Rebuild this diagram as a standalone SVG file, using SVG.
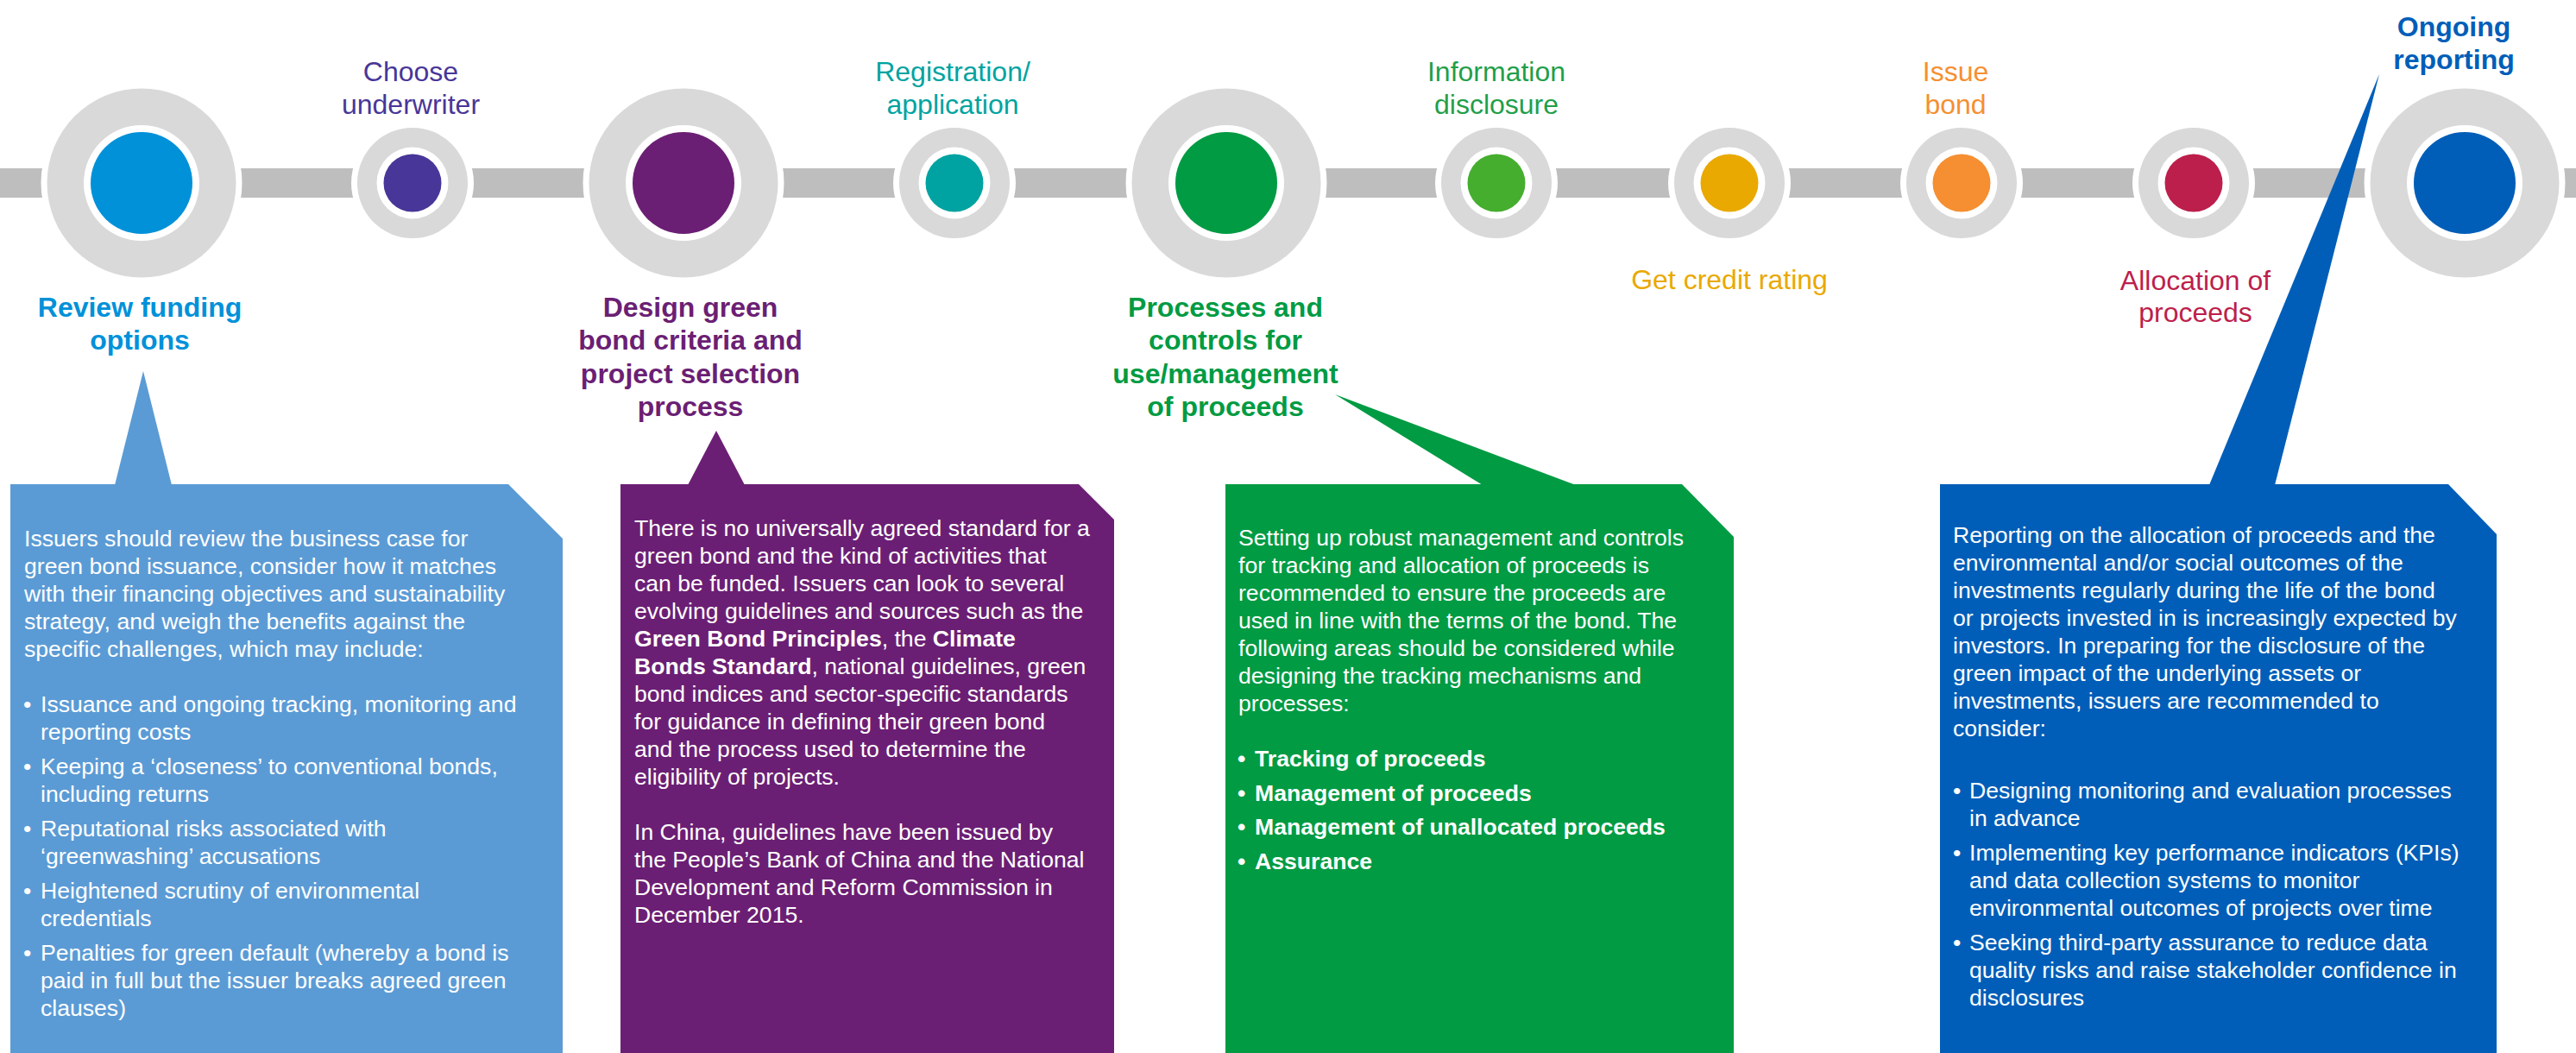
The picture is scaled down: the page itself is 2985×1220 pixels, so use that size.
<svg xmlns="http://www.w3.org/2000/svg" xmlns:xlink="http://www.w3.org/1999/xlink" width="2985" height="1220" viewBox="0 0 2985 1220">
  <style>
    .track { fill: #bebebe; }
    .halo { fill: #ffffff; }
    .rim { fill: #d9d9d9; }
    .lbl { font-family: "Liberation Sans", Arial, sans-serif; font-size: 32px; text-anchor: middle; }
    .ttl { font-family: "Liberation Sans", Arial, sans-serif; font-size: 32px; font-weight: bold; text-anchor: middle; }
    .body { font-family: "Liberation Sans", Arial, sans-serif; font-size: 26.6px; fill: #ffffff; }
    .b { font-weight: bold; }
  </style>
  <defs>
    <!-- large stop: white halo, grey rim, white ring -->
    <g id="stopL">
      <circle r="116.5" class="halo"/>
      <circle r="109.5" class="rim"/>
      <circle r="67" class="halo"/>
    </g>
    <!-- small stop -->
    <g id="stopS">
      <circle r="71" class="halo"/>
      <circle r="64" class="rim"/>
      <circle r="41.5" class="halo"/>
    </g>
  </defs>

  <rect width="2985" height="1220" fill="#ffffff"/>

  <!-- timeline track joining the stops -->
  <g id="connectors">
    <rect class="track" x="0" y="195" width="2985" height="34"/>
  </g>

  <!-- timeline stops -->
  <g id="step-review-funding">
    <use xlink:href="#stopL" x="164" y="212"/>
    <circle cx="164" cy="212" r="59" fill="#0091d9"/>
    <text class="ttl" fill="#0091d9"><tspan x="162" y="367">Review funding</tspan><tspan x="162" y="405">options</tspan></text>
  </g>

  <g id="step-choose-underwriter">
    <use xlink:href="#stopS" x="478" y="212"/>
    <circle cx="478" cy="212" r="33.5" fill="#483698"/>
    <text class="lbl" fill="#483698"><tspan x="476" y="94">Choose</tspan><tspan x="476" y="131.5">underwriter</tspan></text>
  </g>

  <g id="step-design-criteria">
    <use xlink:href="#stopL" x="792" y="212"/>
    <circle cx="792" cy="212" r="59" fill="#6b1f74"/>
    <text class="ttl" fill="#6b1f74"><tspan x="800" y="367">Design green</tspan><tspan x="800" y="405">bond criteria and</tspan><tspan x="800" y="443.5">project selection</tspan><tspan x="800" y="482">process</tspan></text>
  </g>

  <g id="step-registration">
    <use xlink:href="#stopS" x="1106" y="212"/>
    <circle cx="1106" cy="212" r="33.5" fill="#00a3a1"/>
    <text class="lbl" fill="#00a3a1"><tspan x="1104" y="94">Registration/</tspan><tspan x="1104" y="131.5">application</tspan></text>
  </g>

  <g id="step-processes-controls">
    <use xlink:href="#stopL" x="1421" y="212"/>
    <circle cx="1421" cy="212" r="59" fill="#009b43"/>
    <text class="ttl" fill="#009b43"><tspan x="1420" y="367">Processes and</tspan><tspan x="1420" y="405">controls for</tspan><tspan x="1420" y="443.5">use/management</tspan><tspan x="1420" y="482">of proceeds</tspan></text>
  </g>

  <g id="step-information-disclosure">
    <use xlink:href="#stopS" x="1734" y="212"/>
    <circle cx="1734" cy="212" r="33.5" fill="#45ae2e"/>
    <text class="lbl" fill="#1f9f4a"><tspan x="1734" y="94">Information</tspan><tspan x="1734" y="131.5">disclosure</tspan></text>
  </g>

  <g id="step-credit-rating">
    <use xlink:href="#stopS" x="2004" y="212"/>
    <circle cx="2004" cy="212" r="33.5" fill="#e9a900"/>
    <text class="lbl" fill="#e9a900" x="2004" y="335">Get credit rating</text>
  </g>

  <g id="step-issue-bond">
    <use xlink:href="#stopS" x="2273" y="212"/>
    <circle cx="2273" cy="212" r="33.5" fill="#f58f31"/>
    <text class="lbl" fill="#f58f31"><tspan x="2266" y="94">Issue</tspan><tspan x="2266" y="131.5">bond</tspan></text>
  </g>

  <g id="step-allocation">
    <use xlink:href="#stopS" x="2542" y="212"/>
    <circle cx="2542" cy="212" r="33.5" fill="#bc1f4c"/>
    <text class="lbl" fill="#bc1f4c"><tspan x="2544" y="336">Allocation of</tspan><tspan x="2544" y="373">proceeds</tspan></text>
  </g>

  <g id="step-ongoing-reporting">
    <use xlink:href="#stopL" x="2856" y="212"/>
    <circle cx="2856" cy="212" r="59" fill="#005eb8"/>
    <text class="ttl" fill="#005eb8"><tspan x="2843.5" y="42">Ongoing</tspan><tspan x="2843.5" y="80">reporting</tspan></text>
  </g>

  <!-- callout panels -->
  <g id="panel-review-funding">
    <polygon fill="#5b9bd5" points="133,562 166,430 199,562"/>
    <polygon fill="#5b9bd5" points="12,561 589,561 652,624 652,1220 12,1220"/>
    <text class="body">
      <tspan x="28" y="633">Issuers should review the business case for</tspan>
      <tspan x="28" y="665">green bond issuance, consider how it matches</tspan>
      <tspan x="28" y="697">with their financing objectives and sustainability</tspan>
      <tspan x="28" y="729">strategy, and weigh the benefits against the</tspan>
      <tspan x="28" y="761">specific challenges, which may include:</tspan>
      <tspan x="27" y="825">•</tspan><tspan x="47" y="825">Issuance and ongoing tracking, monitoring and</tspan>
      <tspan x="47" y="857">reporting costs</tspan>
      <tspan x="27" y="897">•</tspan><tspan x="47" y="897">Keeping a ‘closeness’ to conventional bonds,</tspan>
      <tspan x="47" y="929">including returns</tspan>
      <tspan x="27" y="969">•</tspan><tspan x="47" y="969">Reputational risks associated with</tspan>
      <tspan x="47" y="1001">‘greenwashing’ accusations</tspan>
      <tspan x="27" y="1041">•</tspan><tspan x="47" y="1041">Heightened scrutiny of environmental</tspan>
      <tspan x="47" y="1073">credentials</tspan>
      <tspan x="27" y="1113">•</tspan><tspan x="47" y="1113">Penalties for green default (whereby a bond is</tspan>
      <tspan x="47" y="1145">paid in full but the issuer breaks agreed green</tspan>
      <tspan x="47" y="1177">clauses)</tspan>
    </text>
  </g>

  <g id="panel-design-criteria">
    <polygon fill="#6b1f74" points="797,562 830,499 863,562"/>
    <polygon fill="#6b1f74" points="719,561 1250,561 1291,602 1291,1220 719,1220"/>
    <text class="body">
      <tspan x="735" y="621">There is no universally agreed standard for a</tspan>
      <tspan x="735" y="653">green bond and the kind of activities that</tspan>
      <tspan x="735" y="685">can be funded. Issuers can look to several</tspan>
      <tspan x="735" y="717">evolving guidelines and sources such as the</tspan>
      <tspan x="735" y="749" class="b">Green Bond Principles</tspan><tspan>, the </tspan><tspan class="b">Climate</tspan>
      <tspan x="735" y="781" class="b">Bonds Standard</tspan><tspan>, national guidelines, green</tspan>
      <tspan x="735" y="813">bond indices and sector-specific standards</tspan>
      <tspan x="735" y="845">for guidance in defining their green bond</tspan>
      <tspan x="735" y="877">and the process used to determine the</tspan>
      <tspan x="735" y="909">eligibility of projects.</tspan>
      <tspan x="735" y="973">In China, guidelines have been issued by</tspan>
      <tspan x="735" y="1005">the People’s Bank of China and the National</tspan>
      <tspan x="735" y="1037">Development and Reform Commission in</tspan>
      <tspan x="735" y="1069">December 2015.</tspan>
    </text>
  </g>

  <g id="panel-processes-controls">
    <polygon fill="#009b43" points="1718,562 1547,457 1826,562"/>
    <polygon fill="#009b43" points="1420,561 1949,561 2009,622 2009,1220 1420,1220"/>
    <text class="body">
      <tspan x="1435" y="632">Setting up robust management and controls</tspan>
      <tspan x="1435" y="664">for tracking and allocation of proceeds is</tspan>
      <tspan x="1435" y="696">recommended to ensure the proceeds are</tspan>
      <tspan x="1435" y="728">used in line with the terms of the bond. The</tspan>
      <tspan x="1435" y="760">following areas should be considered while</tspan>
      <tspan x="1435" y="792">designing the tracking mechanisms and</tspan>
      <tspan x="1435" y="824">processes:</tspan>
    </text>
    <text class="body b">
      <tspan x="1434" y="888">•</tspan><tspan x="1454" y="888">Tracking of proceeds</tspan>
      <tspan x="1434" y="928">•</tspan><tspan x="1454" y="928">Management of proceeds</tspan>
      <tspan x="1434" y="967">•</tspan><tspan x="1454" y="967">Management of unallocated proceeds</tspan>
      <tspan x="1434" y="1007">•</tspan><tspan x="1454" y="1007">Assurance</tspan>
    </text>
  </g>

  <g id="panel-ongoing-reporting">
    <polygon fill="#005eb8" points="2560,562 2757,86 2636,562"/>
    <polygon fill="#005eb8" points="2248,561 2837,561 2893,619 2893,1220 2248,1220"/>
    <text class="body">
      <tspan x="2263" y="629">Reporting on the allocation of proceeds and the</tspan>
      <tspan x="2263" y="661">environmental and/or social outcomes of the</tspan>
      <tspan x="2263" y="693">investments regularly during the life of the bond</tspan>
      <tspan x="2263" y="725">or projects invested in is increasingly expected by</tspan>
      <tspan x="2263" y="757">investors. In preparing for the disclosure of the</tspan>
      <tspan x="2263" y="789">green impact of the underlying assets or</tspan>
      <tspan x="2263" y="821">investments, issuers are recommended to</tspan>
      <tspan x="2263" y="853">consider:</tspan>
      <tspan x="2263" y="925">•</tspan><tspan x="2282" y="925">Designing monitoring and evaluation processes</tspan>
      <tspan x="2282" y="957">in advance</tspan>
      <tspan x="2263" y="997">•</tspan><tspan x="2282" y="997">Implementing key performance indicators (KPIs)</tspan>
      <tspan x="2282" y="1029">and data collection systems to monitor</tspan>
      <tspan x="2282" y="1061">environmental outcomes of projects over time</tspan>
      <tspan x="2263" y="1101">•</tspan><tspan x="2282" y="1101">Seeking third-party assurance to reduce data</tspan>
      <tspan x="2282" y="1133">quality risks and raise stakeholder confidence in</tspan>
      <tspan x="2282" y="1165">disclosures</tspan>
    </text>
  </g>
</svg>
